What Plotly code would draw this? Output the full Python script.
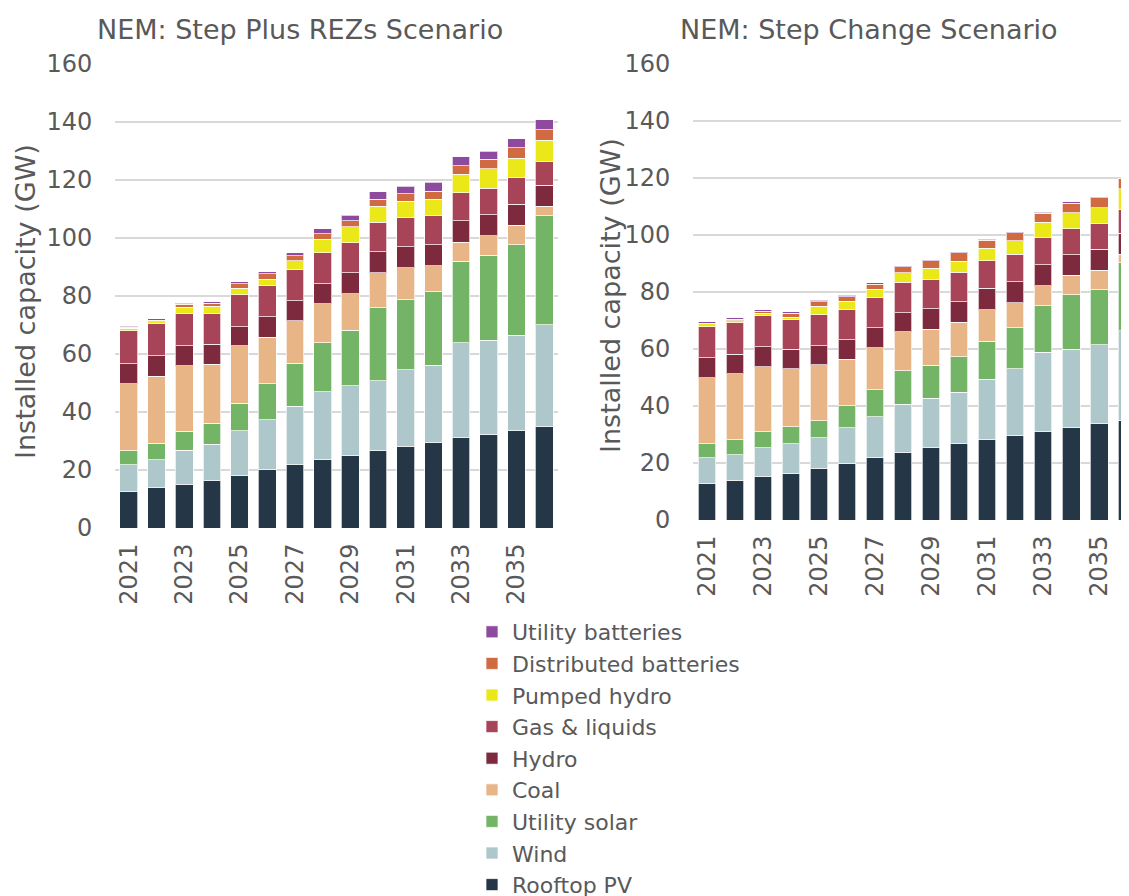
import plotly.graph_objects as go

years = list(range(2021, 2037))

series_names = ["Rooftop PV", "Wind", "Utility solar", "Coal", "Hydro",
                "Gas & liquids", "Pumped hydro", "Distributed batteries", "Utility batteries"]
colors = ["#253746", "#ADC7CA", "#74B466", "#E8B587", "#7E2A3E",
          "#A84458", "#EBE81A", "#D06A40", "#8E4A9E"]

# Step Plus REZs scenario (GW)
rezs_rooftop = [12.6, 13.9, 15.0, 16.3, 18.1, 20.1, 21.8, 23.6, 25.1, 26.7, 28.2, 29.6, 31.1, 32.3, 33.6, 34.9]
rezs_wind = [9.2, 9.6, 11.8, 12.6, 15.4, 17.2, 20.1, 23.3, 23.9, 24.1, 26.3, 26.6, 32.7, 32.5, 32.9, 35.2]
rezs_solar = [4.9, 5.7, 6.5, 7.3, 9.5, 12.4, 14.9, 17.0, 19.2, 25.1, 24.2, 25.2, 28.1, 29.2, 31.1, 37.5]
rezs_coal = [23.1, 23.2, 22.7, 20.2, 19.8, 16.1, 14.6, 13.5, 12.5, 12.1, 11.0, 9.0, 6.7, 6.8, 6.8, 3.3]
rezs_hydro = [6.9, 7.0, 6.8, 6.9, 6.6, 7.0, 7.0, 6.9, 7.3, 7.2, 7.2, 7.3, 7.4, 7.2, 7.3, 7.3]
rezs_gas = [11.3, 11.0, 11.1, 10.7, 11.0, 10.7, 10.6, 10.7, 10.3, 10.2, 10.0, 9.9, 9.6, 9.2, 9.1, 8.2]
rezs_pumped = [0.8, 0.8, 2.2, 2.4, 2.3, 2.3, 3.1, 4.5, 5.5, 5.6, 5.7, 5.8, 6.4, 6.7, 6.7, 7.3]
rezs_dist_batt = [0.5, 0.5, 1.0, 1.1, 1.6, 1.8, 1.8, 2.0, 2.2, 2.4, 2.7, 2.8, 3.0, 3.2, 3.6, 3.7]
rezs_util_batt = [0.3, 0.4, 0.4, 0.6, 0.6, 0.8, 1.1, 1.7, 1.8, 2.5, 2.5, 3.0, 3.1, 2.9, 3.2, 3.4]

# Step Change scenario (GW)
step_rooftop = [12.7, 13.9, 15.2, 16.3, 18.1, 20.0, 21.9, 23.6, 25.3, 26.8, 28.3, 29.7, 31.0, 32.4, 33.8, 34.9]
step_wind = [9.1, 9.0, 10.1, 10.4, 10.7, 12.4, 14.4, 17.1, 17.5, 18.1, 21.1, 23.3, 27.8, 27.6, 27.7, 31.5]
step_solar = [5.0, 5.2, 5.7, 6.0, 6.1, 7.7, 9.4, 11.7, 11.5, 12.3, 13.4, 14.4, 16.4, 19.1, 19.3, 23.8]
step_coal = [23.1, 23.2, 22.8, 20.4, 19.6, 16.3, 14.8, 13.7, 12.6, 12.2, 11.0, 8.9, 7.0, 6.7, 6.8, 3.1]
step_hydro = [7.1, 6.8, 7.0, 6.8, 6.7, 6.9, 7.0, 6.6, 7.3, 7.2, 7.5, 7.3, 7.3, 7.3, 7.4, 7.3]
step_gas = [10.8, 11.1, 10.8, 10.6, 10.8, 10.5, 10.6, 10.8, 10.1, 10.4, 9.7, 9.7, 9.6, 9.1, 9.0, 8.3]
step_pumped = [1.0, 0.7, 0.9, 0.7, 3.0, 3.0, 2.8, 3.2, 4.1, 3.8, 4.3, 4.7, 5.3, 5.6, 5.6, 7.4]
step_dist_batt = [0.3, 0.5, 0.7, 1.4, 1.6, 1.6, 1.9, 2.1, 2.5, 2.9, 2.8, 2.8, 3.2, 3.4, 3.5, 3.7]
step_util_batt = [0.4, 0.5, 0.5, 0.4, 0.5, 0.4, 0.5, 0.4, 0.3, 0.3, 0.4, 0.4, 0.4, 0.4, 0.4, 0.2]

rezs = [rezs_rooftop, rezs_wind, rezs_solar, rezs_coal, rezs_hydro,
        rezs_gas, rezs_pumped, rezs_dist_batt, rezs_util_batt]
step = [step_rooftop, step_wind, step_solar, step_coal, step_hydro,
        step_gas, step_pumped, step_dist_batt, step_util_batt]

# the page body keeps its default 8px margin, so the figure is drawn 8px in
OFF = 8
W, H = 1129 - OFF, 896 - OFF
FONT = "DejaVu Sans, Verdana, sans-serif"
GREY = "#595959"


def px(x):
    return (x - OFF) / W


def py(y):
    return 1 - (y - OFF) / H


fig = go.Figure()

for name, col, vals in zip(series_names, colors, rezs):
    fig.add_trace(go.Bar(
        x=years, y=vals, name=name, marker_color=col,
        marker_line=dict(color="rgba(255,255,255,0.7)", width=1),
        xaxis="x", yaxis="y", width=0.64, showlegend=True
    ))

for name, col, vals in zip(series_names, colors, step):
    fig.add_trace(go.Bar(
        x=years, y=vals, name=name, marker_color=col,
        marker_line=dict(color="rgba(255,255,255,0.7)", width=1),
        xaxis="x2", yaxis="y2", width=0.64, showlegend=False
    ))

xax = dict(
    tickmode="array", tickvals=years[::2], ticktext=[str(y) for y in years[::2]],
    tickangle=-90, showgrid=False, zeroline=False, showline=False,
    tickfont=dict(size=24, color=GREY, family=FONT),
    ticks="outside", ticklen=5, tickcolor="rgba(0,0,0,0)",
)
yax = dict(
    range=[0, 160], dtick=20, showgrid=True, gridcolor="#D9D9D9", gridwidth=1.5,
    zeroline=False, showline=False,
    tickfont=dict(size=24, color=GREY, family=FONT),
    ticks="outside", ticklen=17, tickcolor="rgba(0,0,0,0)",
)

title_font = dict(size=27, color=GREY, family=FONT)

fig.update_layout(
    width=W, height=H,
    barmode="stack",
    plot_bgcolor="white", paper_bgcolor="white",
    margin=dict(l=0, r=0, t=0, b=0, autoexpand=False),
    font=dict(family=FONT, color=GREY, size=22),
    xaxis=dict(xax, domain=[px(115), px(558)], range=[2020.5, 2036.5], anchor="y"),
    yaxis=dict(yax, domain=[py(528), py(64)], anchor="x"),
    xaxis2=dict(xax, domain=[px(693), 1.0], range=[2020.5, 2036.07], anchor="y2"),
    yaxis2=dict(yax, domain=[py(520), py(64)], anchor="x2"),
    legend=dict(
        x=px(472), y=py(611), xanchor="left", yanchor="top",
        traceorder="reversed", font=dict(size=22, color=GREY, family=FONT),
        bgcolor="rgba(0,0,0,0)", itemwidth=30,
    ),
    annotations=[
        dict(text="NEM: Step Plus REZs Scenario", x=px(300), y=py(30),
             xanchor="center", yanchor="middle",
             xref="paper", yref="paper", showarrow=False, font=title_font),
        dict(text="NEM: Step Change Scenario", x=px(869), y=py(30),
             xanchor="center", yanchor="middle",
             xref="paper", yref="paper", showarrow=False, font=title_font),
        dict(text="Installed capacity (GW)", x=px(25), y=py(302),
             xanchor="center", yanchor="middle",
             xref="paper", yref="paper", showarrow=False, textangle=-90, font=title_font),
        dict(text="Installed capacity (GW)", x=px(610), y=py(296),
             xanchor="center", yanchor="middle",
             xref="paper", yref="paper", showarrow=False, textangle=-90, font=title_font),
    ],
)

fig.write_html("out.html")
